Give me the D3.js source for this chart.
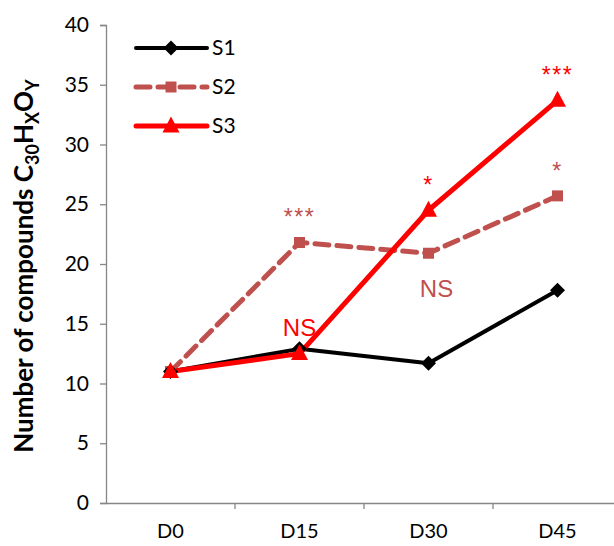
<!DOCTYPE html>
<html><head><meta charset="utf-8">
<script src="https://cdn.jsdelivr.net/npm/d3@7"></script>
<style>body{margin:0;background:#fff}svg{display:block}</style>
</head><body>
<svg id="c" width="614" height="546"></svg>
<script>
const categories = ["D0","D15","D30","D45"];
const seriesNames = ["S1","S2","S3"];
const s1 = [11.0, 12.9, 11.7, 17.8];
const s2 = [11.0, 21.8, 20.9, 25.7];
const s3 = [11.0, 12.5, 24.5, 33.7];
const yTicks = [0,5,10,15,20,25,30,35,40];
const annotations = [
  {cat:"D15", v:21.8, text:"***", series:"S2", kind:"star"},
  {cat:"D15", v:12.5, text:"NS", series:"S3", kind:"ns"},
  {cat:"D30", v:24.5, text:"*", series:"S3", kind:"star"},
  {cat:"D30", v:20.9, text:"NS", series:"S2", kind:"nsb"},
  {cat:"D45", v:25.7, text:"*", series:"S2", kind:"star"},
  {cat:"D45", v:33.7, text:"***", series:"S3", kind:"star"}
];
const colors = {S1:"#000000", S2:"#C0504D", S3:"#FF0000"};

(function(){
const svg = d3.select("#c");
const mLeft = 106, mTop = 25, mBottom = 503, bandW = 129;
const x = d3.scaleBand().domain(categories).range([mLeft, mLeft + bandW*categories.length]);
const y = d3.scaleLinear().domain([0,40]).range([mBottom, mTop]);
const cx = c => x(c) + x.bandwidth()/2;
const font = "Lato, 'Open Sans', sans-serif";

const ya = svg.append("g").attr("transform",`translate(${mLeft},0)`)
  .call(d3.axisLeft(y).tickValues(yTicks).tickSize(6).tickPadding(11));
ya.select(".domain").attr("stroke","#868686").attr("stroke-width",1.3);
ya.selectAll(".tick line").attr("stroke","#868686").attr("stroke-width",1.3);
ya.selectAll("text").attr("font-family",font).attr("font-size",21).attr("fill","#000");

const xa = svg.append("g").attr("transform",`translate(0,${mBottom})`)
  .call(d3.axisBottom(x).tickSize(0).tickPadding(21));
xa.select(".domain").attr("stroke","#868686").attr("stroke-width",1.3);
xa.selectAll("text").attr("font-family",font).attr("font-size",20).attr("fill","#000");
svg.append("g").selectAll("line").data(categories.slice(1)).join("line")
  .attr("x1",d=>x(d)).attr("x2",d=>x(d)).attr("y1",mBottom).attr("y2",mBottom+6)
  .attr("stroke","#868686").attr("stroke-width",1.3);

const t = svg.append("text").attr("transform",`translate(33,${(mTop+mBottom)/2+2}) rotate(-90)`)
  .attr("text-anchor","middle").attr("font-family",font)
  .attr("font-weight","bold").attr("font-size",26).attr("fill","#000");
t.append("tspan").text("Number of compounds C");
t.append("tspan").text("30").attr("font-size",18).attr("dy",6);
t.append("tspan").text("H").attr("dy",-6);
t.append("tspan").text("X").attr("font-size",18).attr("dy",6);
t.append("tspan").text("O").attr("dy",-6);
t.append("tspan").text("Y").attr("font-size",18).attr("dy",6);

const data = {S1:s1, S2:s2, S3:s3};
const line = d3.line().x((d,i)=>cx(categories[i])).y(d=>y(d));
const styles = {
  S1:{w:4, dash:null},
  S2:{w:5, dash:"14,8"},
  S3:{w:5, dash:null}
};
function marker(g, name, px, py) {
  if (name==="S1") {
    const r = 7.5;
    g.append("path").attr("d",`M${px},${py-r}L${px+r},${py}L${px},${py+r}L${px-r},${py}Z`).attr("fill",colors.S1);
  } else if (name==="S2") {
    const s = 11;
    g.append("rect").attr("x",px-s/2).attr("y",py-s/2).attr("width",s).attr("height",s).attr("fill",colors.S2);
  } else {
    const h = 16, w = 17;
    g.append("path").attr("d",`M${px},${py-h*0.6}L${px+w/2},${py+h*0.4}L${px-w/2},${py+h*0.4}Z`).attr("fill",colors.S3);
  }
}
const plot = svg.append("g");
["S2","S1","S3"].forEach(n=>{
  plot.append("path").datum(data[n]).attr("d",line).attr("fill","none")
    .attr("stroke",colors[n]).attr("stroke-width",styles[n].w)
    .attr("stroke-dasharray",styles[n].dash).attr("stroke-linecap", n==="S2"?"round":"butt")
    .attr("stroke-linejoin","round");
});
["S2","S1","S3"].forEach(n=>{
  data[n].forEach((v,i)=>marker(plot,n,cx(categories[i]),y(v)));
});

annotations.forEach(a=>{
  const px = cx(a.cat), py = y(a.v);
  if (a.kind==="star") {
    svg.append("text").attr("x",px).attr("y",py-17).attr("text-anchor","middle")
      .attr("font-family","'Liberation Sans', Arial, sans-serif").attr("font-size",23)
      .attr("letter-spacing",1.5)
      .attr("fill",colors[a.series]).text(a.text);
  } else if (a.kind==="ns") {
    svg.append("text").attr("x",px).attr("y",py-18).attr("text-anchor","middle")
      .attr("font-family","'Liberation Sans', Arial, sans-serif").attr("font-size",24)
      .attr("fill",colors[a.series]).text(a.text);
  } else {
    svg.append("text").attr("x",px+8).attr("y",py+44).attr("text-anchor","middle")
      .attr("font-family","'Liberation Sans', Arial, sans-serif").attr("font-size",24)
      .attr("fill",colors[a.series]).text(a.text);
  }
});

const lg = svg.append("g");
seriesNames.forEach((n,i)=>{
  const ly = 48 + i*39;
  lg.append("line").attr("x1",136).attr("x2",207).attr("y1",ly).attr("y2",ly)
    .attr("stroke",colors[n]).attr("stroke-width",styles[n].w)
    .attr("stroke-dasharray",styles[n].dash).attr("stroke-linecap","round");
  marker(lg,n,171,ly);
  lg.append("text").attr("x",212).attr("y",ly+7).attr("font-family",font)
    .attr("font-size",21).attr("fill","#000").text(n);
});
})();
</script>
</body></html>
